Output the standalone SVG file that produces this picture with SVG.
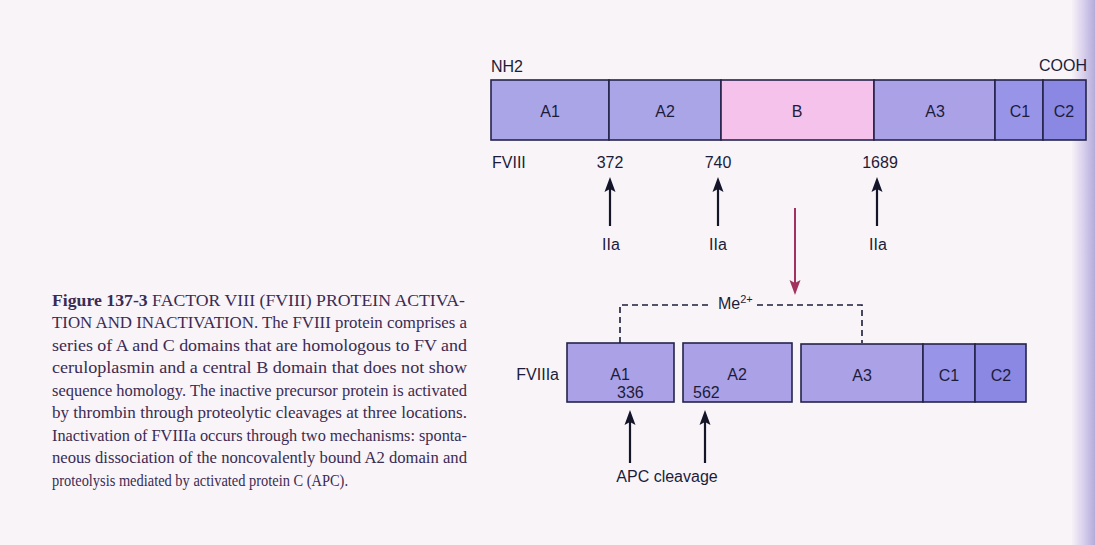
<svg xmlns="http://www.w3.org/2000/svg" width="1095" height="545" viewBox="0 0 1095 545">
<defs>
<linearGradient id="pageEdge" x1="0" y1="0" x2="1" y2="0">
<stop offset="0" stop-color="#f6f1f7"/>
<stop offset="0.5" stop-color="#d8d0ec"/>
<stop offset="1" stop-color="#b4abda"/>
</linearGradient>
<marker id="ahBlack" markerUnits="userSpaceOnUse" markerWidth="15" markerHeight="12" viewBox="0 0 15 12" refX="8" refY="6" orient="auto">
<path d="M0,0.5 L15,6 L0,11.5 L3,6 Z" fill="#15152a"/>
</marker>
<marker id="ahRed" markerUnits="userSpaceOnUse" markerWidth="15" markerHeight="12" viewBox="0 0 15 12" refX="8" refY="6" orient="auto">
<path d="M0,0.5 L15,6 L0,11.5 L3,6 Z" fill="#a3315f"/>
</marker>
</defs>
<style>
.lab{font-family:"Liberation Sans",Arial,sans-serif;font-size:16px;fill:#1c1c3a}
.mid{text-anchor:middle}
.dom{stroke:#25244a;stroke-width:1.6}
.a{fill:#aaa5e7}
.ab{fill:#aaa1e7}
.c1{fill:#9895e9}
.c2{fill:#8a88e2}
.b{fill:#f4c2ea}
.cap{font-family:"Liberation Serif","Times New Roman",serif;font-size:15.8px;fill:#3b2b52}
.arr{stroke:#15152a;stroke-width:2.2;fill:none}
.dash{stroke:#1c1c3a;stroke-width:1.6;fill:none;stroke-dasharray:6 4}
</style>
<rect x="0" y="0" width="1095" height="545" fill="#f8f4f8"/>
<rect x="1072" y="0" width="23" height="545" fill="url(#pageEdge)"/>

<g id="caption">
<text class="cap" x="52" y="306" textLength="413" lengthAdjust="spacingAndGlyphs"><tspan font-weight="bold">Figure 137-3</tspan> FACTOR VIII (FVIII) PROTEIN ACTIVA-</text>
<text class="cap" x="52" y="328" textLength="415" lengthAdjust="spacingAndGlyphs">TION AND INACTIVATION. The FVIII protein comprises a</text>
<text class="cap" x="52" y="351" textLength="415" lengthAdjust="spacingAndGlyphs">series of A and C domains that are homologous to FV and</text>
<text class="cap" x="52" y="373" textLength="415" lengthAdjust="spacingAndGlyphs">ceruloplasmin and a central B domain that does not show</text>
<text class="cap" x="52" y="396" textLength="415" lengthAdjust="spacingAndGlyphs">sequence homology. The inactive precursor protein is activated</text>
<text class="cap" x="52" y="418" textLength="415" lengthAdjust="spacingAndGlyphs">by thrombin through proteolytic cleavages at three locations.</text>
<text class="cap" x="52" y="441" textLength="415" lengthAdjust="spacingAndGlyphs">Inactivation of FVIIIa occurs through two mechanisms: sponta-</text>
<text class="cap" x="52" y="463" textLength="415" lengthAdjust="spacingAndGlyphs">neous dissociation of the noncovalently bound A2 domain and</text>
<text class="cap" x="52" y="486" textLength="296" lengthAdjust="spacingAndGlyphs">proteolysis mediated by activated protein C (APC).</text>
</g>

<g id="fviii-labels">
<text class="lab" x="491" y="72">NH2</text>
<text class="lab" x="1087" y="71" text-anchor="end" font-size="14.5">COOH</text>
<text class="lab" x="492" y="168">FVIII</text>
<text class="lab mid" x="610" y="168">372</text>
<text class="lab mid" x="718" y="168">740</text>
<text class="lab mid" x="880" y="168">1689</text>
</g>

<g id="fviii-A1"><rect class="dom a" x="491" y="80" width="118" height="60"/><text class="lab mid" x="550" y="117">A1</text></g>
<g id="fviii-A2"><rect class="dom a" x="609" y="80" width="112" height="60"/><text class="lab mid" x="665" y="117">A2</text></g>
<g id="fviii-B"><rect class="dom b" x="721" y="80" width="153" height="60" stroke="#a88aa6"/><text class="lab mid" x="797" y="117">B</text></g>
<g id="fviii-A3"><rect class="dom ab" x="874" y="80" width="121" height="60"/><text class="lab mid" x="935" y="117">A3</text></g>
<g id="fviii-C1"><rect class="dom c1" x="995" y="80" width="48" height="60"/><text class="lab mid" x="1020" y="117">C1</text></g>
<g id="fviii-C2"><rect class="dom c2" x="1043" y="80" width="43" height="60"/><text class="lab mid" x="1064" y="117">C2</text></g>

<g id="iia-labels">
<text class="lab mid" x="611" y="250">IIa</text>
<text class="lab mid" x="718" y="250">IIa</text>
<text class="lab mid" x="878" y="250">IIa</text>
</g>

<g id="fviiia-label"><text class="lab" x="559" y="380" text-anchor="end">FVIIIa</text></g>
<g id="me-label"><text class="lab" x="718" y="309">Me<tspan font-size="11" dy="-6">2+</tspan></text></g>

<g id="fviiia-A1"><rect class="dom ab" x="567" y="343" width="107" height="59"/><text class="lab mid" x="620" y="380">A1</text><text class="lab" x="617" y="398">336</text></g>
<g id="fviiia-A2"><rect class="dom ab" x="683" y="343" width="109" height="59"/><text class="lab mid" x="737" y="380">A2</text><text class="lab" x="693" y="398">562</text></g>
<g id="fviiia-A3"><rect class="dom ab" x="801" y="344" width="122" height="58"/><text class="lab mid" x="862" y="381">A3</text></g>
<g id="fviiia-C1"><rect class="dom c1" x="923" y="344" width="52" height="58"/><text class="lab mid" x="949" y="381">C1</text></g>
<g id="fviiia-C2"><rect class="dom c2" x="975" y="344" width="51" height="58"/><text class="lab mid" x="1001" y="381">C2</text></g>

<g id="apc-label"><text class="lab mid" x="667" y="482">APC cleavage</text></g>

<g id="connectors">
<line class="arr" x1="610" y1="226" x2="610" y2="184" marker-end="url(#ahBlack)"/>
<line class="arr" x1="718" y1="226" x2="718" y2="184" marker-end="url(#ahBlack)"/>
<line class="arr" x1="877" y1="226" x2="877" y2="184" marker-end="url(#ahBlack)"/>
<line x1="795" y1="208" x2="795" y2="288" stroke="#a3315f" stroke-width="2" marker-end="url(#ahRed)"/>
<path class="dash" d="M620,343 V305 H712"/>
<path class="dash" d="M757,305 H862 V343"/>
<line class="arr" x1="630" y1="463" x2="630" y2="417" marker-end="url(#ahBlack)"/>
<line class="arr" x1="705" y1="463" x2="705" y2="417" marker-end="url(#ahBlack)"/>
</g>
</svg>
